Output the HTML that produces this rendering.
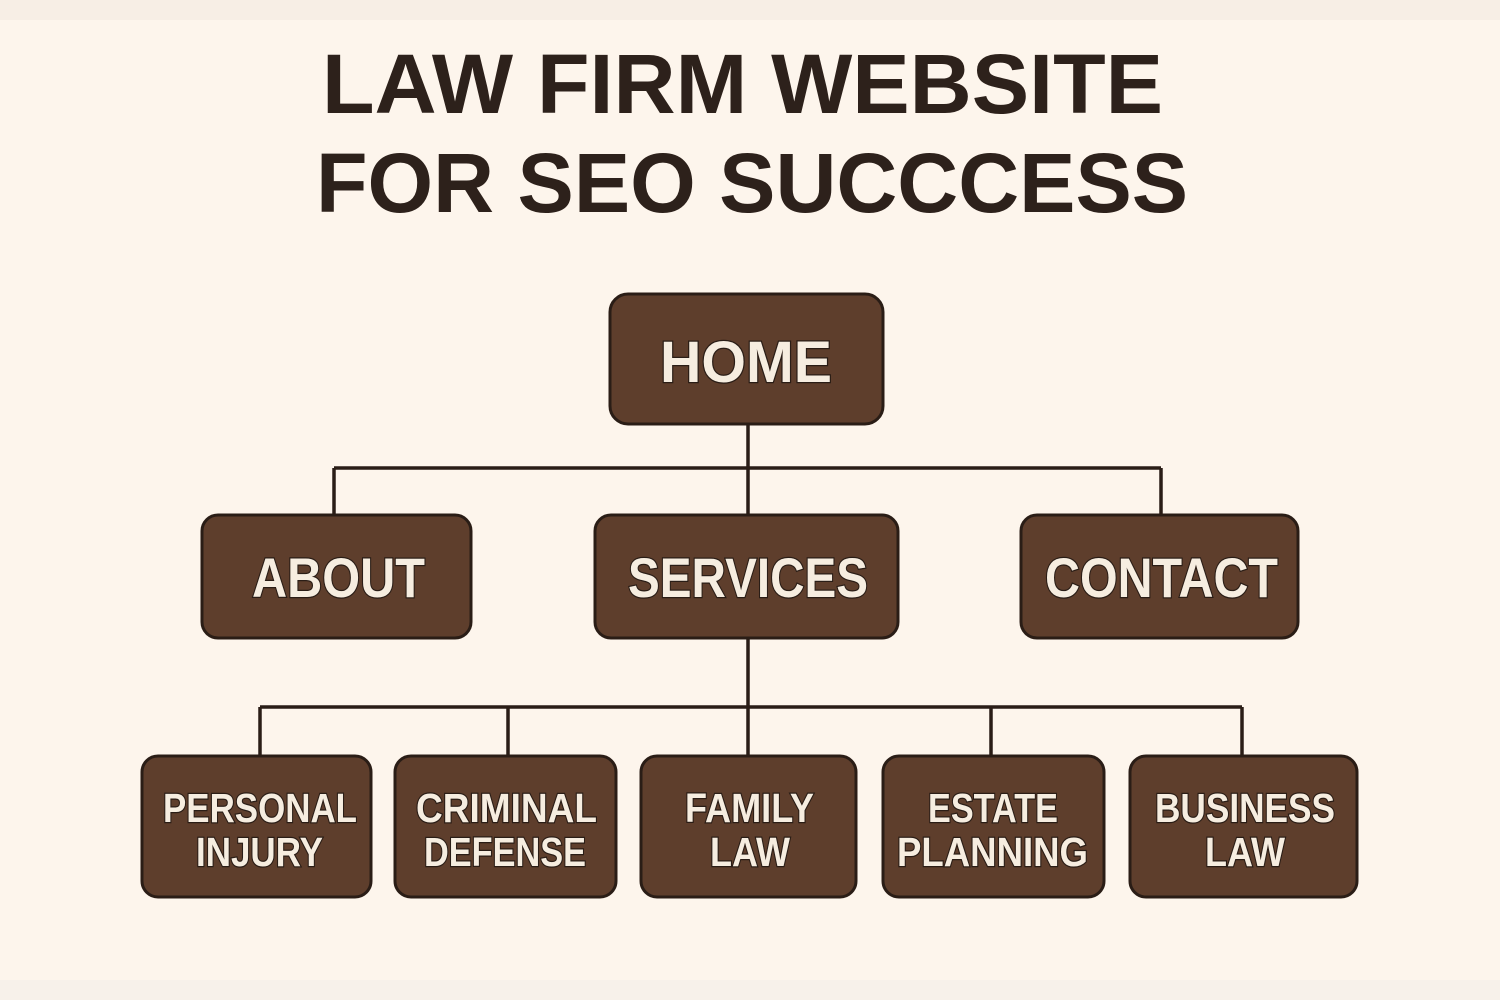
<!DOCTYPE html>
<html><head><meta charset="utf-8"><style>
html,body{margin:0;padding:0;background:#fdf5ec;}
svg{display:block}
text{font-family:"Liberation Sans",sans-serif;font-weight:bold;}
</style></head><body>
<svg width="1500" height="1000" viewBox="0 0 1500 1000" xmlns="http://www.w3.org/2000/svg">
<rect x="0" y="0" width="1500" height="1000" fill="#fdf5ec"/>
<rect x="0" y="0" width="1500" height="20" fill="#f7eee5"/>
<rect x="0" y="980" width="1500" height="20" fill="#f7f1ea"/>
<g fill="#2d211b">
<text x="322" y="113" font-size="84" textLength="841" lengthAdjust="spacingAndGlyphs">LAW FIRM WEBSITE</text>
<text x="316" y="212" font-size="84" textLength="872" lengthAdjust="spacingAndGlyphs">FOR SEO SUCCCESS</text>
</g>
<g stroke="#2a1d16" stroke-width="3.5" fill="none">
<path d="M748 424V515M334 468H1161M334 468V515M1161 468V515"/>
<path d="M748 638V756M260 707H1242M260 707V756M508 707V756M991 707V756M1242 707V756"/>
</g>
<g fill="#5e3e2c" stroke="#2a1d16" stroke-width="3">
<rect x="610" y="294" width="273" height="130" rx="18"/>
<rect x="202" y="515" width="269" height="123" rx="16"/>
<rect x="595" y="515" width="303" height="123" rx="16"/>
<rect x="1021" y="515" width="277" height="123" rx="16"/>
<rect x="142" y="756" width="229" height="141" rx="16"/>
<rect x="395" y="756" width="221" height="141" rx="16"/>
<rect x="641" y="756" width="215" height="141" rx="16"/>
<rect x="883" y="756" width="221" height="141" rx="16"/>
<rect x="1130" y="756" width="227" height="141" rx="16"/>
</g>
<g fill="#f6ede0" stroke="#2a1d16" stroke-width="2.5" paint-order="stroke">
<text x="660" y="382" font-size="58" textLength="172" lengthAdjust="spacingAndGlyphs">HOME</text>
<text x="252" y="597" font-size="56" textLength="173" lengthAdjust="spacingAndGlyphs">ABOUT</text>
<text x="628" y="597" font-size="56" textLength="240" lengthAdjust="spacingAndGlyphs">SERVICES</text>
<text x="1045" y="597" font-size="56" textLength="233" lengthAdjust="spacingAndGlyphs">CONTACT</text>
<text x="163" y="822" font-size="41" textLength="194" lengthAdjust="spacingAndGlyphs">PERSONAL</text>
<text x="196" y="866" font-size="41" textLength="127" lengthAdjust="spacingAndGlyphs">INJURY</text>
<text x="416" y="822" font-size="41" textLength="181" lengthAdjust="spacingAndGlyphs">CRIMINAL</text>
<text x="424" y="866" font-size="41" textLength="162" lengthAdjust="spacingAndGlyphs">DEFENSE</text>
<text x="685" y="822" font-size="41" textLength="129" lengthAdjust="spacingAndGlyphs">FAMILY</text>
<text x="710" y="866" font-size="41" textLength="80" lengthAdjust="spacingAndGlyphs">LAW</text>
<text x="928" y="822" font-size="41" textLength="130" lengthAdjust="spacingAndGlyphs">ESTATE</text>
<text x="897" y="866" font-size="41" textLength="191" lengthAdjust="spacingAndGlyphs">PLANNING</text>
<text x="1155" y="822" font-size="41" textLength="180" lengthAdjust="spacingAndGlyphs">BUSINESS</text>
<text x="1205" y="866" font-size="41" textLength="80" lengthAdjust="spacingAndGlyphs">LAW</text>
</g>
</svg>
</body></html>
